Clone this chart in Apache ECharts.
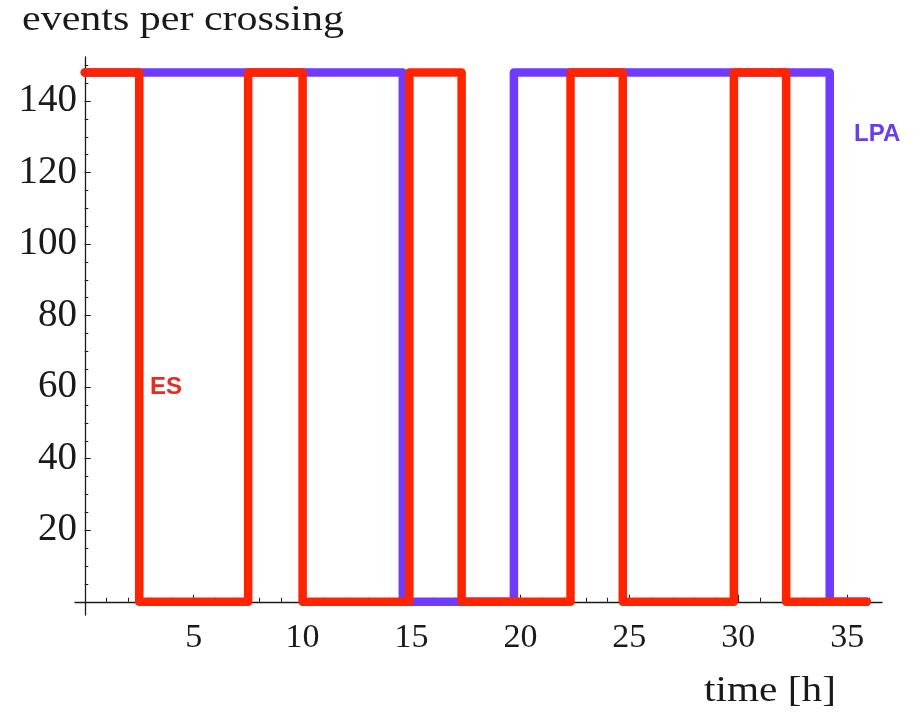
<!DOCTYPE html>
<html>
<head>
<meta charset="utf-8">
<title>events per crossing</title>
<script src="https://cdn.jsdelivr.net/npm/echarts@6/dist/echarts.min.js"></script>
<style>
  html, body { margin: 0; padding: 0; background: #ffffff; }
  #chart { width: 921px; height: 718px; }
</style>
</head>
<body>
<div id="chart"></div>
<script>
// Step profiles: [time in hours, events per crossing]
const lpaPoints = [
  [0, 148], [14.6, 148], [14.6, 0], [19.7, 0], [19.7, 148],
  [34.2, 148], [34.2, 0], [35.9, 0]
];
const esPoints = [
  [0, 148], [2.5, 148], [2.5, 0], [7.5, 0], [7.5, 148],
  [10.0, 148], [10.0, 0], [14.9, 0], [14.9, 148], [17.3, 148],
  [17.3, 0], [22.3, 0], [22.3, 148], [24.7, 148], [24.7, 0],
  [29.8, 0], [29.8, 148], [32.2, 148], [32.2, 0], [35.9, 0]
];

// Tick positions
const xLabelTicks = [5, 10, 15, 20, 25, 30, 35];
const xMinorTicks = [0, 1, 2, 3, 4, 5, 6, 7, 8, 9, 10, 11, 12, 13, 14, 15, 16, 17, 18,
  19, 20, 21, 22, 23, 24, 25, 26, 27, 28, 29, 30, 31, 32, 33, 34, 35, 36];
const yLabelTicks = [20, 40, 60, 80, 100, 120, 140];
const yMinorTicks = [0, 5, 10, 15, 20, 25, 30, 35, 40, 45, 50, 55, 60, 65, 70, 75,
  80, 85, 90, 95, 100, 105, 110, 115, 120, 125, 130, 135, 140, 145, 150];

const X_MIN = -0.45, X_MAX = 36.6;
const Y_MIN = -3.7, Y_MAX = 152.3;

const serif = "'Liberation Serif', 'Times New Roman', serif";
const ink = '#1a1a1a';
const red = '#ff2400';
const violet = '#6e3bff';

const chart = echarts.init(document.getElementById('chart'), null, { renderer: 'canvas' });

const baseX = {
  type: 'value', min: X_MIN, max: X_MAX, position: 'bottom',
  splitLine: { show: false },
  axisLine: { onZero: true, onZeroAxisIndex: 0, lineStyle: { color: ink, width: 1.3 } }
};
const baseY = {
  type: 'value', min: Y_MIN, max: Y_MAX, position: 'left',
  splitLine: { show: false },
  axisLine: { onZero: true, onZeroAxisIndex: 0, lineStyle: { color: ink, width: 1.3 } }
};

chart.setOption({
  animation: false,
  backgroundColor: '#ffffff',
  grid: { left: 75, right: 39, top: 57, bottom: 103, containLabel: false },
  xAxis: [
    Object.assign({}, baseX, {
      axisTick: { show: true, inside: true, length: 7, customValues: xLabelTicks,
        lineStyle: { color: ink, width: 1 } },
      axisLabel: { show: true, customValues: xLabelTicks, margin: 6,
        fontFamily: serif, fontSize: 34, color: ink }
    }),
    Object.assign({}, baseX, {
      axisLine: { show: false, onZero: true, onZeroAxisIndex: 0 },
      axisTick: { show: true, inside: true, length: 4, customValues: xMinorTicks,
        lineStyle: { color: ink, width: 1 } },
      axisLabel: { show: false }
    })
  ],
  yAxis: [
    Object.assign({}, baseY, {
      axisTick: { show: true, inside: true, length: 6, customValues: yLabelTicks,
        lineStyle: { color: ink, width: 1 } },
      axisLabel: { show: true, customValues: yLabelTicks, margin: -2,
        fontFamily: serif, fontSize: 39, color: ink }
    }),
    Object.assign({}, baseY, {
      axisLine: { show: false, onZero: true, onZeroAxisIndex: 0 },
      axisTick: { show: true, inside: true, length: 3.5, customValues: yMinorTicks,
        lineStyle: { color: ink, width: 1 } },
      axisLabel: { show: false }
    })
  ],
  series: [
    {
      name: 'LPA', type: 'line', data: lpaPoints, xAxisIndex: 0, yAxisIndex: 0,
      showSymbol: false, symbol: 'none', z: 3,
      lineStyle: { color: violet, width: 8.5, cap: 'round', join: 'round' }
    },
    {
      name: 'ES', type: 'line', data: esPoints, xAxisIndex: 0, yAxisIndex: 0,
      showSymbol: false, symbol: 'none', z: 4,
      lineStyle: { color: red, width: 8.5, cap: 'round', join: 'round' }
    }
  ],
  graphic: [
    {
      type: 'text', x: 22, y: 21, scaleX: 1.2,
      style: { text: 'events per crossing', font: '35px ' + serif, fill: ink,
        align: 'left', verticalAlign: 'middle' }
    },
    {
      type: 'text', x: 704, y: 692, scaleX: 1.18,
      style: { text: 'time [h]', font: '35px ' + serif, fill: ink,
        align: 'left', verticalAlign: 'middle' }
    },
    {
      type: 'text', x: 854, y: 134,
      style: { text: 'LPA', font: 'bold 24px "Liberation Sans", Arial, sans-serif',
        fill: '#6a3de8', align: 'left', verticalAlign: 'middle' }
    },
    {
      type: 'text', x: 150, y: 387,
      style: { text: 'ES', font: 'bold 24px "Liberation Sans", Arial, sans-serif',
        fill: '#e52b24', align: 'left', verticalAlign: 'middle' }
    }
  ]
});
</script>
</body>
</html>
